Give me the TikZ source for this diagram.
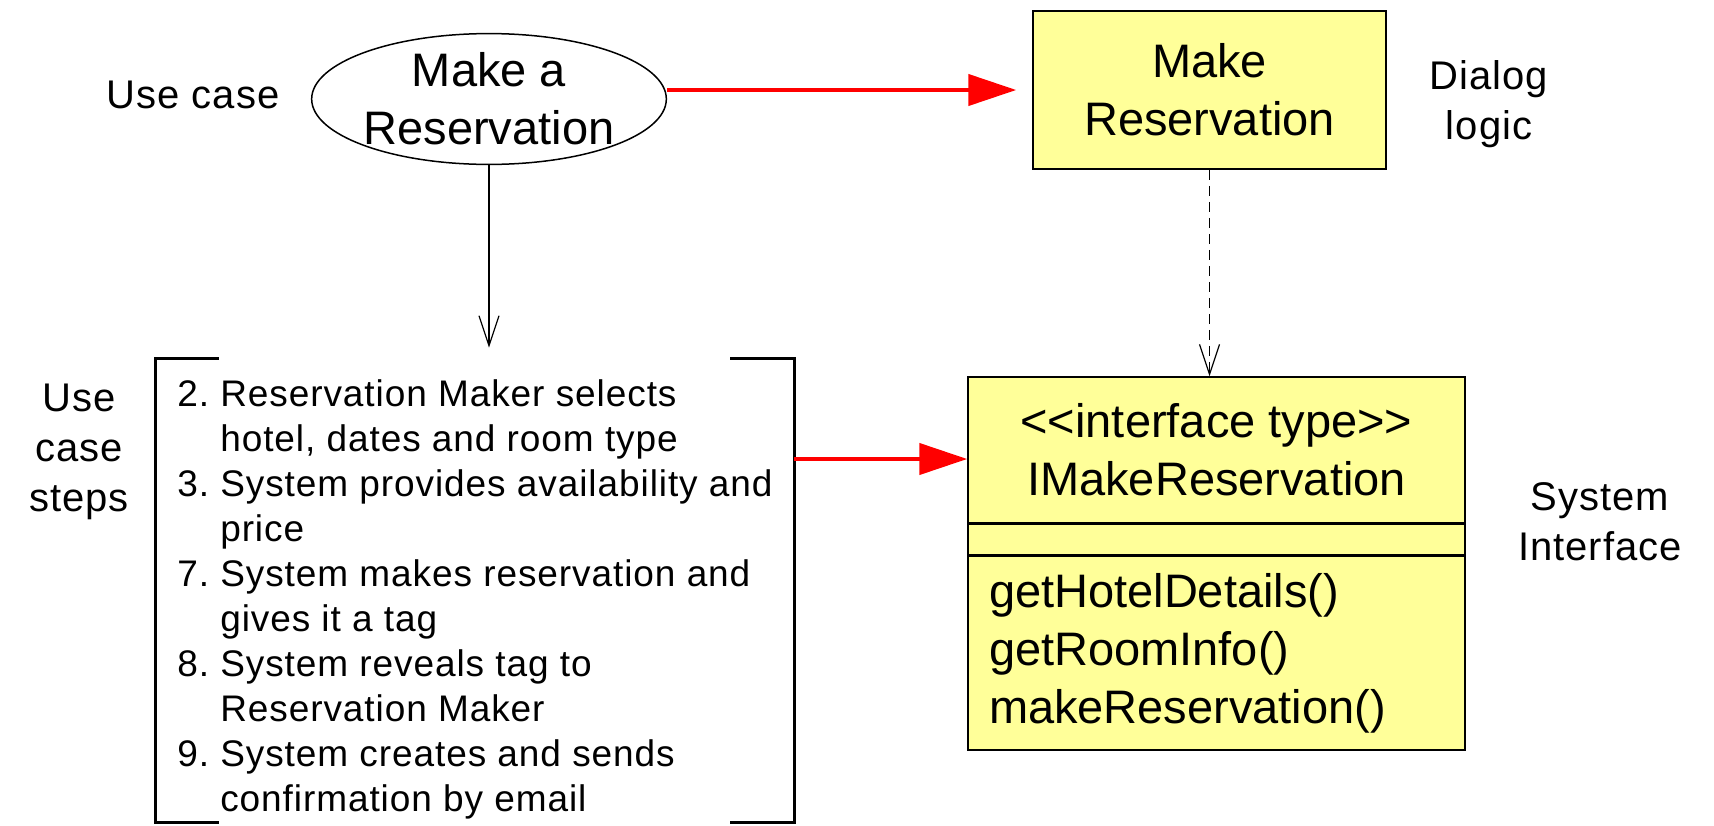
\documentclass[tikz,border=0pt]{standalone}
\usepackage{fontspec}
\setmainfont{Liberation Sans}
\newfontfamily\labelfont{Liberation Sans}[LetterSpace=2.5]
\usetikzlibrary{arrows.meta, shapes.geometric}
\definecolor{boxyellow}{RGB}{255,255,153}

\begin{document}
\begin{tikzpicture}[x = 0.5pt, y = -0.5pt,
	bigtext/.style = {font = \fontsize{23.5}{29}\selectfont, align = center},
	side label/.style = {font = \labelfont\fontsize{20}{25}\selectfont, align = center},
	yellowbox/.style = {draw, line width = 0.75pt, fill = boxyellow, inner sep = 0pt},
	red arrow/.style = {draw = red, line width = 2.2pt, -{Triangle[length = 24pt, width = 15.5pt]}},
	thin arrow/.style = {line width = 0.6pt, -{Straight Barb[length = 15pt, width = 10pt]}},
	bracket/.style = {line width = 1.7pt}]

	\useasboundingbox (0, 0) rectangle (1714, 825);

	% Use case

	\node [ellipse, draw, line width = 0.75pt, minimum width = 176.5pt, minimum height = 63pt, inner sep = 0pt, bigtext] (usecase) at (489, 99) {Make a\\Reservation};
	\node [side label] (usecaselabel) at (193, 95) {Use case};

	% Dialog logic

	\node [yellowbox, minimum width = 176.5pt, minimum height = 79pt, bigtext] (dialog) at (1209.5, 90) {Make\\Reservation};
	\node [side label] (dialoglabel) at (1489, 104) {Dialog\\logic};

	% Use case steps + bracket

	\node [minimum width = 319pt, minimum height = 231.5pt, inner sep = 0pt, font = \labelfont\fontsize{18.5}{22.5}\selectfont] (steps) at (475, 590.5) {%
		\raisebox{-4.5pt}[\height][\depth]{%
		\begin{tabular}{@{}l@{\hspace{0.3em}}l@{}}
			2. & Reservation Maker selects\\
			   & hotel, dates and room type\\
			3. & System provides availability and\\
			   & price\\
			7. & System makes reservation and\\
			   & gives it a tag\\
			8. & System reveals tag to\\
			   & Reservation Maker\\
			9. & System creates and sends\\
			   & confirmation by email
		\end{tabular}}};
	\node [side label] (stepslabel) at (79, 452) {Use\\case\\steps};

	\draw [bracket] ([xshift = 31.5pt] steps.north west) -- (steps.north west) -- (steps.south west) -- ++(63, 0);
	\draw [bracket] ([xshift = -32pt] steps.north east) -- (steps.north east) -- (steps.south east) -- ++(-64, 0);

	% System interface

	\node [yellowbox, minimum width = 248.5pt, minimum height = 73pt, bigtext] (ifhead) at (1216.5, 450) {<\kern0pt<interface type>\kern0pt>\\IMakeReservation};
	\node [yellowbox, minimum width = 248.5pt, minimum height = 15pt, anchor = north] (ifattr) at (ifhead.south) {};
	\node [yellowbox, minimum width = 248.5pt, minimum height = 97pt, anchor = north, bigtext, inner xsep = 10.5pt, text width = 227.5pt, align = left] (ifops) at (ifattr.south) {getHotelDetails()\\getRoomInfo()\\makeReservation()};
	\node [side label] (ifacelabel) at (1600, 522) {System\\Interface};

	% Connectors

	\draw [red arrow, shorten >= 8pt] (usecase.east |- dialog.west) -- (dialog.west);
	\draw [thin arrow] (usecase.south) -- ([yshift = 5.5pt] usecase.south |- steps.north);
	\draw [thin arrow, dash pattern = on 5pt off 3pt] (dialog.south) -- (dialog.south |- ifhead.north);
	\draw [red arrow] ([yshift = -4.5pt] steps.east |- ifhead.west) -- ([yshift = -4.5pt] ifhead.west);

\end{tikzpicture}
\end{document}
